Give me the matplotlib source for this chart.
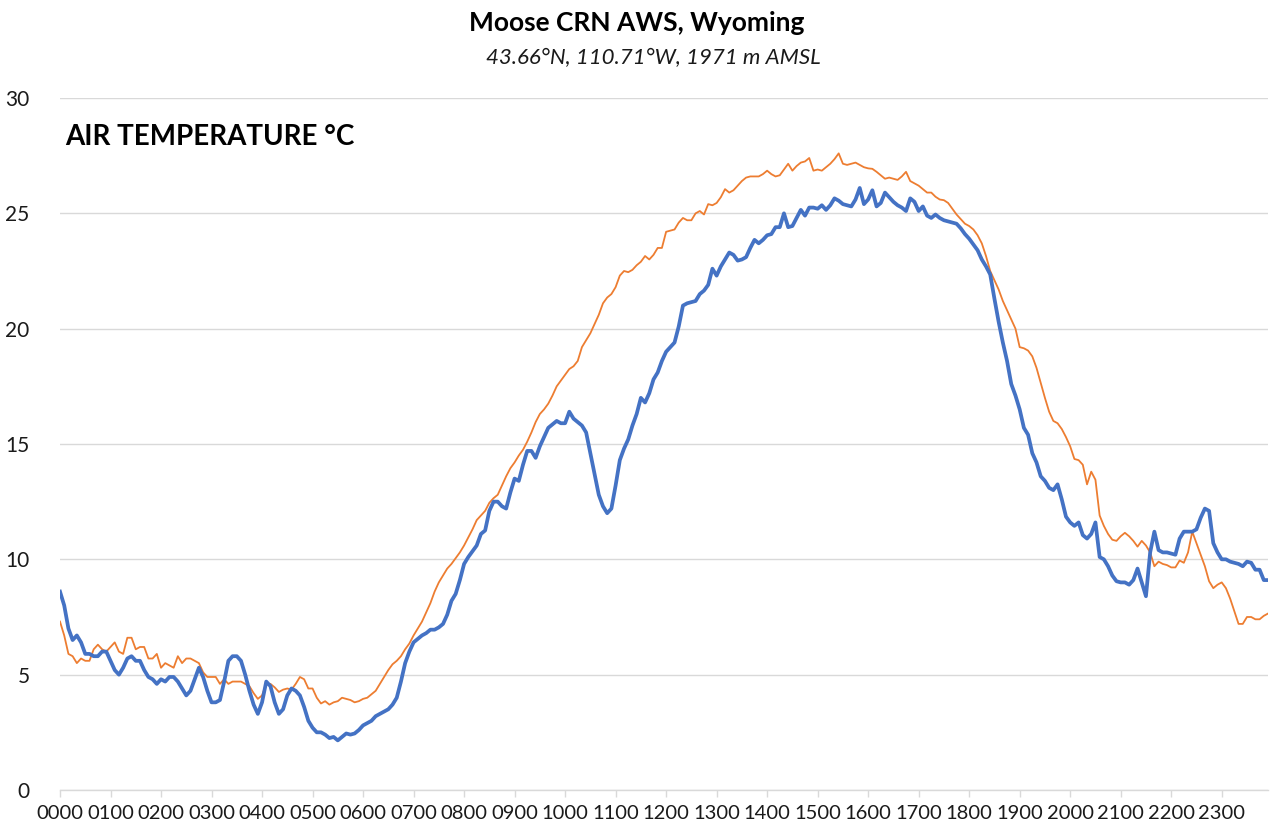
import numpy as np
import matplotlib
matplotlib.use("Agg")
import matplotlib.pyplot as plt

plt.rcParams['font.family'] = ['Lato', 'DejaVu Sans']

# 5-minute air temperature, one row of 12 values per hour (0000 ... 2355)
temp_blue = [
    8.6, 8.0, 7.0, 6.5, 6.7, 6.4, 5.9, 5.9, 5.8, 5.8, 6.0, 6.0,
    5.6, 5.2, 5.0, 5.3, 5.7, 5.8, 5.6, 5.6, 5.2, 4.9, 4.8, 4.6,
    4.8, 4.7, 4.9, 4.9, 4.7, 4.4, 4.1, 4.3, 4.8, 5.3, 4.9, 4.3,
    3.8, 3.8, 3.9, 4.7, 5.6, 5.8, 5.8, 5.6, 5.0, 4.3, 3.7, 3.3,
    3.8, 4.7, 4.5, 3.8, 3.3, 3.5, 4.1, 4.4, 4.3, 4.1, 3.6, 3.0,
    2.7, 2.5, 2.5, 2.4, 2.25, 2.3, 2.15, 2.3, 2.45, 2.4, 2.45, 2.6,
    2.8, 2.9, 3.0, 3.2, 3.3, 3.4, 3.5, 3.7, 4.0, 4.7, 5.5, 6.0,
    6.4, 6.55, 6.7, 6.8, 6.95, 6.95, 7.05, 7.2, 7.6, 8.2, 8.5, 9.1,
    9.8, 10.1, 10.35, 10.6, 11.1, 11.25, 12.1, 12.5, 12.5, 12.3, 12.2, 12.9,
    13.5, 13.4, 14.1, 14.7, 14.7, 14.4, 14.9, 15.3, 15.7, 15.85, 16.0, 15.9,
    15.9, 16.4, 16.1, 15.95, 15.8, 15.5, 14.6, 13.7, 12.8, 12.3, 12.0, 12.2,
    13.2, 14.3, 14.8, 15.2, 15.8, 16.3, 17.0, 16.8, 17.2, 17.8, 18.1, 18.6,
    19.0, 19.2, 19.4, 20.1, 21.0, 21.1, 21.15, 21.2, 21.5, 21.65, 21.9, 22.6,
    22.3, 22.7, 23.0, 23.3, 23.2, 22.95, 23.0, 23.1, 23.5, 23.85, 23.7, 23.85,
    24.05, 24.1, 24.4, 24.4, 25.0, 24.4, 24.45, 24.8, 25.15, 24.9, 25.25, 25.25,
    25.2, 25.35, 25.15, 25.35, 25.65, 25.55, 25.4, 25.35, 25.3, 25.6, 26.1, 25.4,
    25.6, 26.0, 25.3, 25.45, 25.9, 25.7, 25.5, 25.35, 25.25, 25.1, 25.65, 25.5,
    25.1, 25.3, 24.9, 24.8, 24.95, 24.8, 24.7, 24.65, 24.6, 24.55, 24.35, 24.1,
    23.9, 23.65, 23.4, 23.0, 22.7, 22.35, 21.3, 20.3, 19.4, 18.6, 17.6, 17.1,
    16.5, 15.7, 15.4, 14.6, 14.2, 13.6, 13.4, 13.1, 13.0, 13.25, 12.6, 11.85,
    11.6, 11.45, 11.6, 11.05, 10.9, 11.1, 11.6, 10.1, 10.0, 9.7, 9.3, 9.05,
    9.0, 9.0, 8.9, 9.1, 9.6, 9.0, 8.4, 10.3, 11.2, 10.4, 10.3, 10.3,
    10.25, 10.2, 10.9, 11.2, 11.2, 11.2, 11.3, 11.8, 12.2, 12.1, 10.7, 10.3,
    10.0, 10.0, 9.9, 9.85, 9.8, 9.7, 9.9, 9.85, 9.55, 9.55, 9.1, 9.1,
]

temp_orange = [
    7.3, 6.7, 5.9, 5.8, 5.5, 5.7, 5.6, 5.6, 6.1, 6.3, 6.1, 6.0,
    6.2, 6.4, 6.0, 5.9, 6.6, 6.6, 6.1, 6.2, 6.2, 5.7, 5.7, 5.9,
    5.3, 5.5, 5.4, 5.3, 5.8, 5.5, 5.7, 5.7, 5.6, 5.5, 5.1, 4.9,
    4.9, 4.9, 4.6, 4.8, 4.6, 4.7, 4.7, 4.7, 4.6, 4.5, 4.2, 3.95,
    4.1, 4.6, 4.6, 4.45, 4.25, 4.35, 4.4, 4.35, 4.6, 4.9, 4.8, 4.4,
    4.4, 4.0, 3.75, 3.85, 3.7, 3.8, 3.85, 4.0, 3.95, 3.9, 3.8, 3.85,
    3.95, 4.0, 4.15, 4.3, 4.6, 4.9, 5.2, 5.45, 5.6, 5.8, 6.1, 6.35,
    6.7, 7.0, 7.3, 7.7, 8.1, 8.6, 9.0, 9.3, 9.6, 9.8, 10.05, 10.3,
    10.6, 10.95, 11.3, 11.7, 11.9, 12.1, 12.45, 12.65, 12.8, 13.2, 13.6, 13.95,
    14.2, 14.5, 14.75, 15.1, 15.5, 15.95, 16.3, 16.5, 16.75, 17.1, 17.5, 17.75,
    18.0, 18.25, 18.37, 18.6, 19.2, 19.5, 19.8, 20.2, 20.6, 21.1, 21.35, 21.5,
    21.8, 22.3, 22.5, 22.45, 22.55, 22.75, 22.9, 23.15, 23.0, 23.2, 23.5, 23.5,
    24.2, 24.25, 24.3, 24.6, 24.8, 24.7, 24.7, 25.0, 25.1, 24.95, 25.4, 25.35,
    25.45, 25.7, 26.05, 25.9, 26.0, 26.2, 26.4, 26.55, 26.6, 26.6, 26.6, 26.7,
    26.85, 26.7, 26.6, 26.65, 26.9, 27.15, 26.85, 27.05, 27.2, 27.25, 27.4, 26.85,
    26.9, 26.85, 27.0, 27.15, 27.35, 27.6, 27.15, 27.1, 27.15, 27.2, 27.1, 27.0,
    26.95, 26.93, 26.8, 26.65, 26.5, 26.55, 26.5, 26.45, 26.6, 26.8, 26.4, 26.3,
    26.2, 26.05, 25.9, 25.9, 25.72, 25.6, 25.57, 25.45, 25.2, 24.95, 24.75, 24.55,
    24.45, 24.3, 24.05, 23.7, 23.15, 22.5, 22.1, 21.7, 21.2, 20.8, 20.4, 20.0,
    19.2, 19.15, 19.05, 18.8, 18.3, 17.65, 17.0, 16.4, 16.0, 15.9, 15.65, 15.3,
    14.9, 14.35, 14.3, 14.1, 13.25, 13.8, 13.45, 11.9, 11.45, 11.1, 10.85, 10.8,
    11.0, 11.15, 11.0, 10.8, 10.55, 10.8, 10.6, 10.3, 9.7, 9.9, 9.8, 9.75,
    9.65, 9.65, 9.95, 9.85, 10.3, 11.2, 10.7, 10.2, 9.7, 9.05, 8.75, 8.9,
    9.0, 8.75, 8.3, 7.75, 7.2, 7.2, 7.5, 7.5, 7.4, 7.4, 7.55, 7.65,
]

minutes = np.arange(len(temp_blue)) * 5
hour_ticks = np.arange(0, 24) * 60
hour_labels = ['%02d00' % h for h in range(24)]

fig = plt.figure(figsize=(12.74, 8.32), dpi=100)
ax = fig.add_axes([0.0471, 0.0505, 0.9482, 0.8317])

ax.plot(minutes, temp_orange, color='#ED7D31', lw=1.3, zorder=3)
ax.plot(minutes, temp_blue, color='#4472C4', lw=2.7, zorder=4)

ax.set_xlim(0, minutes[-1])
ax.set_ylim(0, 30)
ax.set_yticks(range(0, 31, 5))
ax.set_xticks(hour_ticks)
ax.set_xticklabels(hour_labels)

ax.grid(axis='y', color='#D9D9D9', lw=1.0)
ax.set_axisbelow(True)
for s in ['top', 'right', 'left']:
    ax.spines[s].set_visible(False)
ax.spines['bottom'].set_color('#D9D9D9')
ax.spines['bottom'].set_linewidth(1.0)

ax.tick_params(axis='y', length=0, pad=22, labelsize=15, labelcolor='#1a1a1a')
ax.tick_params(axis='x', length=5, width=1.0, color='#D9D9D9', pad=6,
               labelsize=14.5, labelcolor='#1a1a1a')

fig.text(0.5, 0.972, 'Moose CRN AWS, Wyoming', ha='center', va='center',
         fontsize=19, fontweight='bold')
fig.text(0.513, 0.930, '43.66°N, 110.71°W, 1971 m AMSL', ha='center', va='center',
         fontsize=16, style='italic', color='#1a1a1a')
fig.text(0.051, 0.835, 'AIR TEMPERATURE °C', ha='left', va='center',
         fontsize=20, fontweight='bold')

fig.savefig('out.png', dpi=100)
